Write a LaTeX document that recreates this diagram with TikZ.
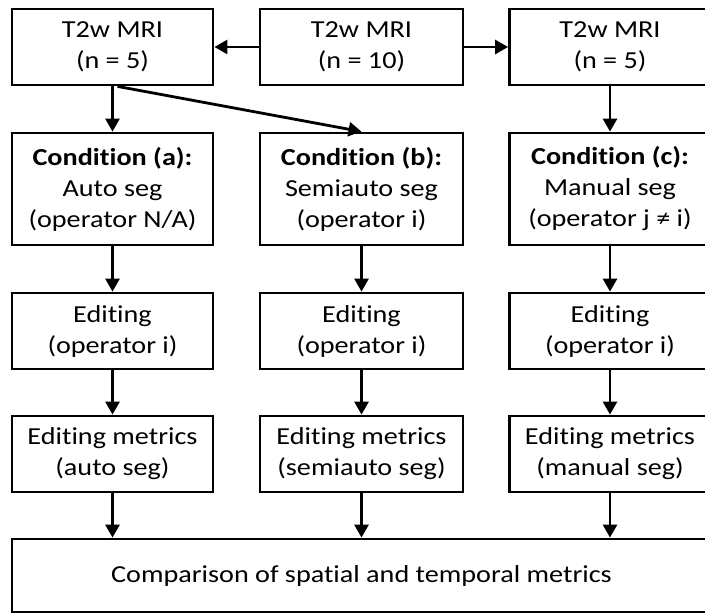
\documentclass[tikz,border=0pt]{standalone}
\usepackage{fontspec}
\setmainfont{Carlito}[FakeStretch=1.155, Ligatures=NoCommon]
\usetikzlibrary{arrows.meta}
\begin{document}
\begin{tikzpicture}[x=1pt,y=-1pt,
  box/.style={draw, line width=2.8pt, rectangle, inner sep=0pt, align=center,
    minimum width=201pt, font=\fontsize{24.4}{31}\selectfont},
  shortbox/.style={box, minimum height=76pt},
  tallbox/.style={box, minimum height=112pt},
  flow/.style={line width=2.8pt, -{Triangle[length=13pt,width=14pt]}}]
\useasboundingbox (0,0) rectangle (705,613);
\fill[white] (0,0) rectangle (705,613);

% source scans
\node[shortbox] (s1) at (112.5,47) {T2w MRI\\(n = 5)};
\node[shortbox, minimum width=203pt] (s2) at (361.5,47) {T2w MRI\\(n = 10)};
\node[shortbox] (s3) at (610,47) {T2w MRI\\(n = 5)};

% segmentation conditions
\node[tallbox] (ca) at (112.5,189) {\textbf{Condition (a):}\\Auto seg\\(operator N/A)};
\node[tallbox, minimum width=203pt] (cb) at (361.5,189) {\textbf{Condition (b):}\\Semiauto seg\\(operator i)};
\node[tallbox] (cc) at (610,189) {\textbf{Condition (c):}\\Manual seg\\(operator j ≠ i)};

% editing step
\node[shortbox] (ea) at (112.5,331) {Editing\\(operator i)};
\node[shortbox, minimum width=203pt] (eb) at (361.5,331) {Editing\\(operator i)};
\node[shortbox] (ec) at (610,331) {Editing\\(operator i)};

% editing metrics
\node[shortbox] (ma) at (112.5,454) {Editing metrics\\(auto seg)};
\node[shortbox, minimum width=203pt] (mb) at (361.5,454) {Editing metrics\\(semiauto seg)};
\node[shortbox] (mc) at (610,454) {Editing metrics\\(manual seg)};

% final comparison
\node[box, minimum width=699pt, minimum height=73.5pt] (cmp) at (361.5,575.75)
  {Comparison of spatial and temporal metrics};

% connectors
\draw[flow] (s2.west) -- (s1.east);
\draw[flow] (s2.east) -- (s3.west);
\draw[flow] (s1.south) -- (ca.north);
\draw[flow] ([xshift=5pt]s1.south) -- (cb.north);
\draw[flow] (s3.south) -- (cc.north);
\draw[flow] (ca.south) -- (ea.north);
\draw[flow] (cb.south) -- (eb.north);
\draw[flow] (cc.south) -- (ec.north);
\draw[flow] (ea.south) -- (ma.north);
\draw[flow] (eb.south) -- (mb.north);
\draw[flow] (ec.south) -- (mc.north);
\draw[flow] (ma.south) -- (ma.south |- cmp.north);
\draw[flow] (mb.south) -- (mb.south |- cmp.north);
\draw[flow] (mc.south) -- (mc.south |- cmp.north);
\end{tikzpicture}
\end{document}
